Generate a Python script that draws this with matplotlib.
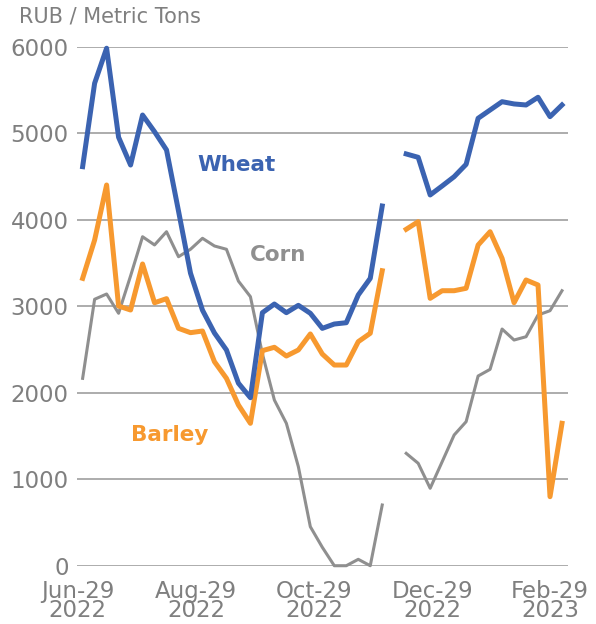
import matplotlib.pyplot as plt
import numpy as np

nan = np.nan

# weekly-ish observations, one gap before the December segment
wheat = [4613, 5577, 5982, 4953, 4632, 5210, 5017, 4806, 4100, 3382,
         2954, 2690, 2494, 2110, 1942, 2925, 3025, 2925, 3010, 2918,
         2744, 2794, 2809, 3130, 3322, 4158, nan, 4760, 4721, 4286,
         4390, 4497, 4640, 5172, 5268, 5364, 5338, 5326, 5415, 5191,
         5326]
barley = [3322, 3765, 4401, 3002, 2956, 3488, 3040, 3087, 2744, 2694,
          2713, 2358, 2166, 1858, 1646, 2486, 2525, 2424, 2494, 2679,
          2447, 2320, 2320, 2590, 2687, 3410, nan, 3889, 3977, 3091,
          3179, 3179, 3207, 3707, 3861, 3553, 3040, 3303, 3245, 798,
          1646]
corn = [2166, 3080, 3141, 2918, 3350, 3803, 3708, 3861, 3572, 3658,
        3785, 3696, 3658, 3290, 3110, 2450, 1915, 1646, 1145, 451,
        213, 0, 0, 74, 0, 702, nan, 1299, 1184, 895,
        1202, 1511, 1665, 2193, 2270, 2736, 2609, 2647, 2898, 2948,
        3179]
tick_labels = ["Jun-29\n2022", "Aug-29\n2022", "Oct-29\n2022",
               "Dec-29\n2022", "Feb-29\n2023"]

BLUE = "#3B63B1"
ORANGE = "#F7992F"
GREY = "#8F8F8F"
TXT = "#7F7F7F"

fig = plt.figure(figsize=(5.96, 6.24), dpi=100)
ax = fig.add_axes([0.129, 0.0934, 0.824, 0.8318])

x = np.arange(len(wheat))
ax.plot(x, corn, color=GREY, lw=2.2, clip_on=False, zorder=3)
ax.plot(x, barley, color=ORANGE, lw=3.6, clip_on=False, zorder=4)
ax.plot(x, wheat, color=BLUE, lw=3.6, clip_on=False, zorder=5)

ax.set_xlim(-0.48, 40.5)
ax.set_ylim(0, 6000)
ax.set_yticks(range(0, 6001, 1000))
ax.set_xticks([-0.4, 9.45, 19.3, 29.2, 39.0])
ax.set_xticklabels(tick_labels, linespacing=0.8)
ax.yaxis.grid(True, color="#A6A6A6", lw=1.3)
ax.set_axisbelow(True)
for s in ax.spines.values():
    s.set_visible(False)
ax.tick_params(length=0, labelsize=16.5, colors=TXT, pad=6)
ax.tick_params(axis="x", pad=10)

ax.text(12.8, 4632, "Wheat", color=BLUE, fontsize=15.5, fontweight="bold",
        ha="center", va="center")
ax.text(16.3, 3592, "Corn", color=GREY, fontsize=15.5, fontweight="bold",
        ha="center", va="center")
ax.text(7.3, 1511, "Barley", color=ORANGE, fontsize=15.5, fontweight="bold",
        ha="center", va="center")

fig.text(19 / 596, 1 - 17 / 624, "RUB / Metric Tons", color=TXT, fontsize=15,
         ha="left", va="center")

fig.savefig("out.png", dpi=100)
